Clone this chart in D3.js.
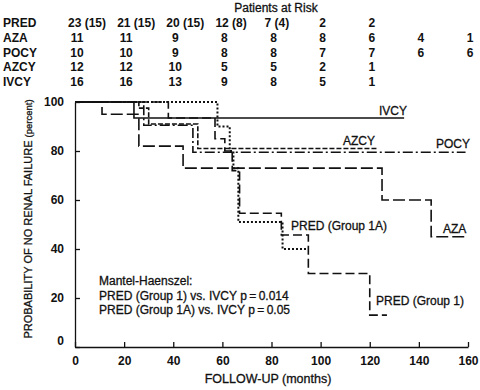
<!DOCTYPE html>
<html><head><meta charset="utf-8">
<script src="https://cdn.jsdelivr.net/npm/d3@7"></script>
<style>
body{margin:0;background:#fff;}
svg{display:block;font-family:"Liberation Sans",Arial,sans-serif;}
.rt{stroke:#111;stroke-width:0.3;}
</style></head>
<body><svg id="c" width="480" height="390"></svg>
<script>
// ---- data ----
const riskTimes = [0,20,40,60,80,100,120,140,160];
const riskGroups = ["PRED","AZA","POCY","AZCY","IVCY"];
const riskPRED = ["23 (15)","21 (15)","20 (15)","12 (8)","7 (4)","2","2"];
const riskAZA  = ["11","11","9","8","8","8","6","4","1"];
const riskPOCY = ["10","10","9","8","8","7","7","6","6"];
const riskAZCY = ["12","12","10","5","5","2","1"];
const riskIVCY = ["16","16","13","9","8","5","1"];
const riskRows = [riskPRED,riskAZA,riskPOCY,riskAZCY,riskIVCY];

// step curves: [time (months), survival (%)]
const curveIVCY = [[0,100],[24,100],[24,93.5],[134,93.5]];
const curveAZCY = [[0,100],[26,100],[26,97.5],[30,97.5],[30,91],[50,91],[50,81],[123,81]];
const curvePOCY = [[0,100],[28,100],[28,90.5],[48,90.5],[48,79.5],[159,79.5]];
const curveAZA  = [[0,100],[11,100],[11,95],[26,95],[26,82],[44,82],[44,73],[125,73],[125,60],[145,60],[145,45],[159,45]];
const curvePRED1 = [[0,100],[38,100],[38,93.5],[57,93.5],[57,85],[61,85],[61,80],[64,80],[64,72],[67,72],[67,54.6],[84,54.6],[84,45.7],[95,45.7],[95,30],[120,30],[120,13],[127,13]];
const curvePRED1A = [[0,100],[58,100],[58,90],[63,90],[63,80],[64.5,80],[64.5,73],[66.5,73],[66.5,51],[84.5,51],[84.5,40],[95,40]];

const xTicks = [0,20,40,60,80,100,120,140,160];
const yTicks = [0,20,40,60,80,100];

// ---- drawing ----
const svg = d3.select("#c");
const x = d3.scaleLinear().domain([0,160]).range([75,468]);
const y = d3.scaleLinear().domain([0,100]).range([347,102]);
const ink = "#111";

// risk table
svg.append("text").attr("class","rt").attr("x",276).attr("y",12).attr("text-anchor","middle")
  .attr("font-size",12).attr("fill",ink).text("Patients at Risk");
const rowY = [27,42,57,71,86];
riskGroups.forEach((g,i)=>{
  svg.append("text").attr("x",3).attr("y",rowY[i]).attr("font-size",12)
    .attr("font-weight","bold").attr("fill",ink).text(g);
  riskRows[i].forEach((v,j)=>{
    const paren = v.indexOf("(")>=0;
    svg.append("text")
      .attr("x", paren ? x(riskTimes[j])-7 : x(riskTimes[j])+2)
      .attr("y",rowY[i]).attr("font-size",12).attr("font-weight","bold")
      .attr("text-anchor", paren ? "start":"middle").attr("fill",ink).text(v);
  });
});

// axes
const xAxis = d3.axisBottom(x).tickValues(xTicks).tickSizeInner(-5).tickSizeOuter(0).tickPadding(9);
const yAxis = d3.axisLeft(y).tickValues(yTicks).tickSizeInner(-5).tickSizeOuter(0).tickPadding(11);
const gx = svg.append("g").attr("transform","translate(0,347)").call(xAxis);
const gy = svg.append("g").attr("transform","translate(75,0)").call(yAxis);
[gx,gy].forEach(g=>{
  g.selectAll("path,line").attr("stroke",ink).attr("stroke-width",1.3);
  g.selectAll("text").attr("font-size",12).attr("font-weight","bold").attr("fill",ink)
    .attr("font-family","'Liberation Sans',Arial,sans-serif");
});
gy.selectAll(".tick").filter(d=>d===0).select("text").attr("dy","-0.2em");

// axis titles
svg.append("text").attr("class","rt").attr("x",268).attr("y",383).attr("text-anchor","middle")
  .attr("font-size",12.5).attr("fill",ink).text("FOLLOW-UP (months)");
const yl = svg.append("text").attr("class","rt").attr("transform","translate(32,219) rotate(-90)")
  .attr("text-anchor","middle").attr("font-size",11).attr("fill",ink);
yl.append("tspan").text("PROBABILITY OF NO RENAL FAILURE ");
yl.append("tspan").attr("font-size",9.5).text("(percent)");

// curves
const line = d3.line().x(d=>x(d[0])).y(d=>y(d[1]));
const series = [
  {d:curveIVCY, dash:null, w:1.6},
  {d:curvePOCY, dash:"10,3,2,3", w:1.6},
  {d:curveAZCY, dash:"5,2", w:1.6},
  {d:curveAZA, dash:"12,4", w:1.6},
  {d:curvePRED1, dash:"9,4", w:1.6},
  {d:curvePRED1A, dash:"2,2", w:2}
];
series.forEach(s=>{
  svg.append("path").attr("d",line(s.d)).attr("fill","none").attr("stroke",ink)
    .attr("stroke-width",s.w).attr("stroke-dasharray",s.dash);
});

// curve labels
const labels = [
  ["IVCY",379,115],["AZCY",343,145],["POCY",436,148],
  ["PRED (Group 1A)",291,230],["AZA",443,233],["PRED (Group 1)",376,305]
];
labels.forEach(l=>svg.append("text").attr("class","rt").attr("x",l[1]).attr("y",l[2]).attr("font-size",12)
  .attr("fill",ink).text(l[0]));

// Mantel-Haenszel note
const mh = ["Mantel-Haenszel:","PRED (Group 1) vs. IVCY p\u2009=\u20090.014","PRED (Group 1A) vs. IVCY p\u2009=\u20090.05"];
mh.forEach((t,i)=>svg.append("text").attr("class","rt").attr("x",99).attr("y",285+i*14.5).attr("font-size",12)
  .attr("fill",ink).text(t));
</script></body></html>
